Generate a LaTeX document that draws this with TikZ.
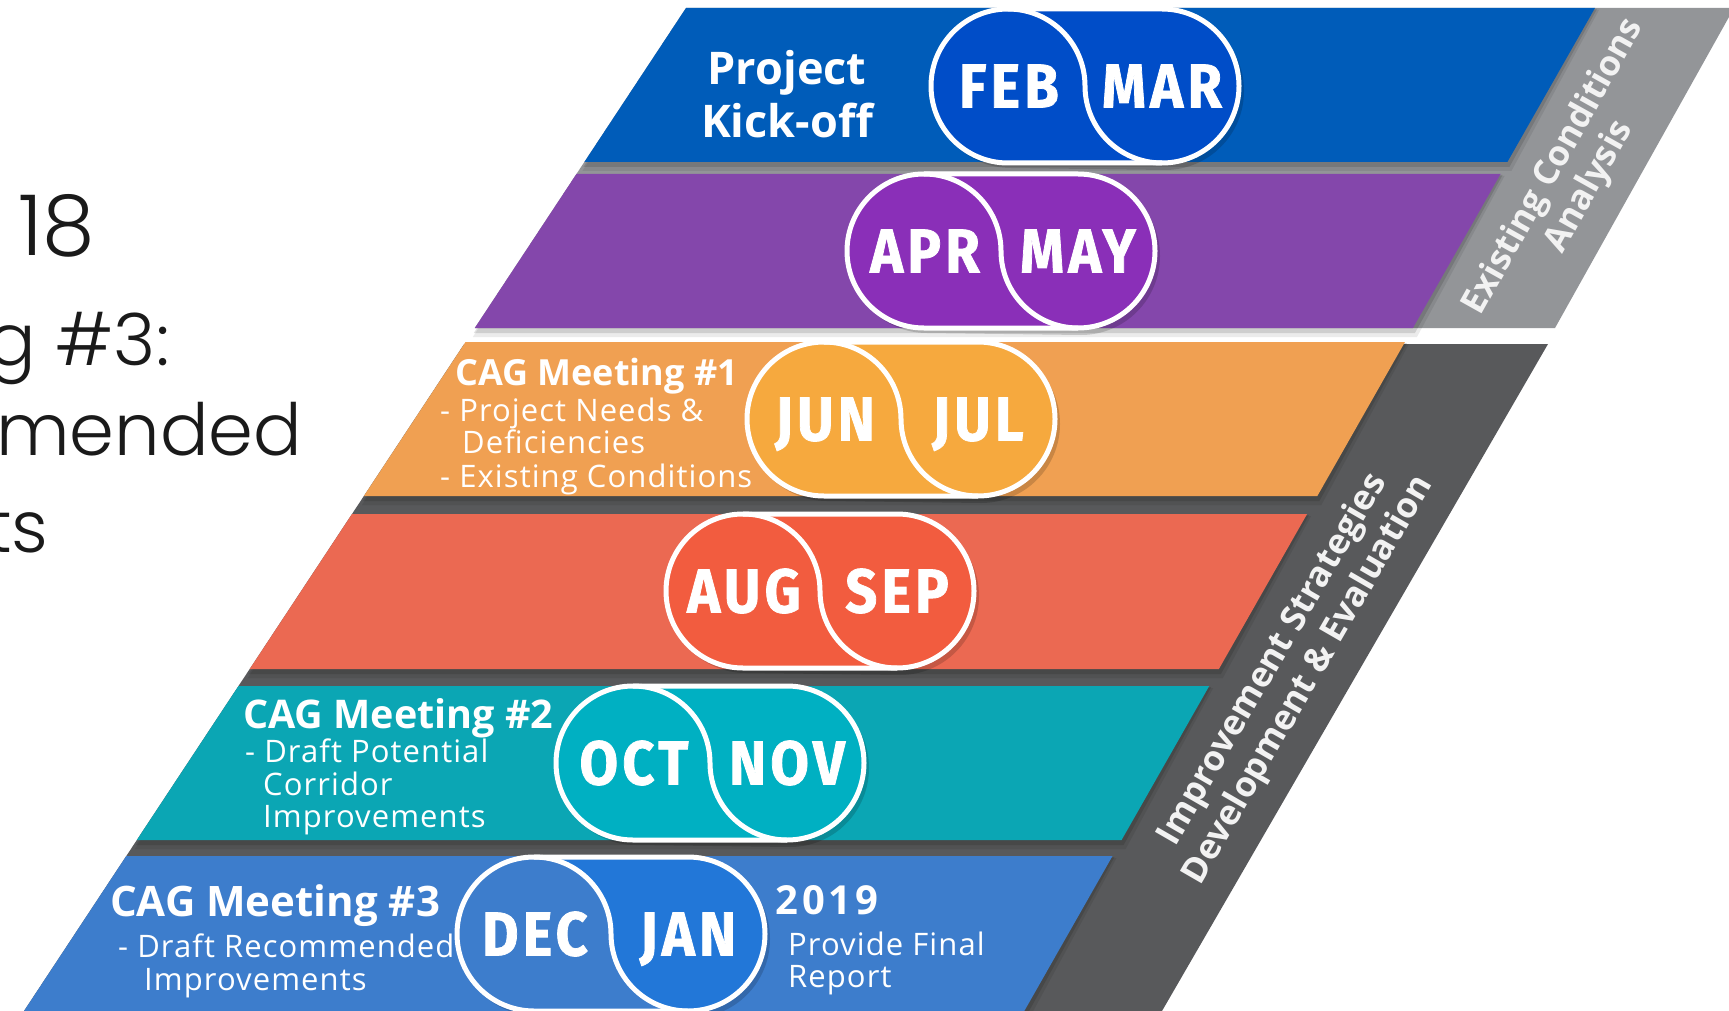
\documentclass[tikz,border=0pt]{standalone}
\usepackage{fontspec}
\setmainfont{Open Sans}[LetterSpace=3.5]
\newfontfamily\headfont{Open Sans}
\newfontfamily\monthfont{Fira Sans}[FakeStretch=0.9,LetterSpace=7,FakeBold=1.2]
\IfFontExistsTF{Poppins Light}{\newfontfamily\titlefont{Poppins Light}}{\newfontfamily\titlefont{Poppins}}
\definecolor{bandA}{HTML}{005CB9}
\definecolor{pillA}{HTML}{004DC8}
\definecolor{bandB}{HTML}{8447AB}
\definecolor{pillB}{HTML}{8A2FB8}
\definecolor{bandC}{HTML}{F0A052}
\definecolor{pillC}{HTML}{F6A93E}
\definecolor{bandD}{HTML}{EB6952}
\definecolor{pillD}{HTML}{F25C3F}
\definecolor{bandE}{HTML}{0BA6B4}
\definecolor{pillE}{HTML}{00B0C2}
\definecolor{bandF}{HTML}{3D7DCC}
\definecolor{pillF}{HTML}{2277D8}
\definecolor{grayA}{HTML}{939598}
\definecolor{grayB}{HTML}{58595B}
\definecolor{ink}{HTML}{1A1A1A}
\newcommand\monthpill[7]{%
  \pgfmathsetmacro\pxl{#2-77}\pgfmathsetmacro\pxr{#2+77}%
  \pgfmathsetmacro\pyt{#3-77}\pgfmathsetmacro\pyb{#3+77}%
  \fill[black,opacity=0.16] (\pxl+3,\pyt+3) -- (\pxr+3,\pyt+3) arc[start angle=-90,end angle=90,radius=79] -- (\pxl+3,\pyb+5) arc[start angle=90,end angle=270,radius=79] -- cycle;
  \fill[#5] (\pxl,\pyt) -- (\pxr,\pyt) arc[start angle=-90,end angle=90,radius=77] -- (\pxl,\pyb) arc[start angle=90,end angle=270,radius=77] -- cycle;
  \fill[#4] (\pxl,\pyt) arc[start angle=270,end angle=90,radius=77] -- (\pxr,\pyb) arc[start angle=90,end angle=180,radius=77] arc[start angle=0,end angle=-90,radius=77] -- cycle;
  \draw[white,line width=5pt] (\pxl,\pyt) -- (\pxr,\pyt) arc[start angle=-90,end angle=90,radius=77] -- (\pxl,\pyb) arc[start angle=90,end angle=270,radius=77] -- cycle;
  \draw[white,line width=5pt] (\pxl,\pyt) arc[start angle=-90,end angle=0,radius=77] arc[start angle=180,end angle=90,radius=77];
  \node[monthtxt] (#1L) at (\pxl+1,#3+21.5) {#6};
  \node[monthtxt] (#1R) at (\pxr,#3+21.5) {#7};
}
\begin{document}
\begin{tikzpicture}[x=1pt,y=-1pt,
  monthtxt/.style={inner sep=0pt,anchor=base,text=white,font=\monthfont\bfseries\fontsize{62pt}{62pt}\selectfont},
  head/.style={inner sep=0pt,anchor=base west,text=white,font=\headfont\bfseries\fontsize{36pt}{40pt}\selectfont},
  item/.style={inner sep=0pt,anchor=base west,text=white,font=\fontsize{31pt}{34pt}\selectfont},
  title/.style={inner sep=0pt,anchor=base west,text=ink,font=\titlefont\fontsize{72pt}{80pt}\selectfont},
  side/.style={inner sep=0pt,align=center,text=white!95!black,font=\headfont\bfseries\fontsize{35pt}{41pt}\selectfont}]
\useasboundingbox (0,0) rectangle (1729,1011);
\fill[white] (0,0) rectangle (1729,1011);
% backing phase bands
\fill[grayA] (686,8) -- (1734,8) -- (1555,328) -- (474.8,328) -- cycle;
\fill[grayB] (464.2,344) -- (1548,344) -- (1162,1011) -- (24,1011) -- cycle;
% monthly bands with soft drop shadows
\foreach \t/\b/\c in {8/162/bandA,174/328/bandB,342/496/bandC,514/669/bandD,686/840/bandE,856/1011/bandF}{
  \pgfmathsetmacro\xlt{686-0.66*(\t-8)}
  \pgfmathsetmacro\xrt{1595-0.569*(\t-8)}
  \pgfmathsetmacro\xlb{686-0.66*(\b-8)}
  \pgfmathsetmacro\xrb{1595-0.569*(\b-8)}
  \fill[black,opacity=0.08] (\xlt+2,\t+2) -- (\xrt+4,\t+2) -- (\xrb+4,\b+9) -- (\xlb-2,\b+9) -- cycle;
  \fill[black,opacity=0.12] (\xlt+1,\t+1) -- (\xrt+2,\t+1) -- (\xrb+2,\b+5) -- (\xlb-1,\b+5) -- cycle;
  \fill[\c] (\xlt,\t) -- (\xrt,\t) -- (\xrb,\b) -- (\xlb,\b) -- cycle;
}
% month pills
\monthpill{p1}{1085}{86}{pillA}{pillA}{FEB}{MAR}
\monthpill{p2}{1001}{251}{pillB}{pillB}{APR}{MAY}
\monthpill{p3}{901}{419}{pillC}{pillC}{JUN}{JUL}
\monthpill{p4}{820}{591}{pillD}{pillD}{AUG}{SEP}
\monthpill{p5}{710}{763}{pillE}{pillE}{OCT}{NOV}
\monthpill{p6}{611}{934}{bandF}{pillF}{DEC}{JAN}
% title fragments
\node[title,font=\titlefont\fontsize{84pt}{90pt}\selectfont] (t1) at (18,255) {18};
\node[title] (t2) at (-13,365) {g \#3:};
\node[title] (t3) at (-4,455) {mended};
\node[title] (t4) at (-14,552) {ts};
% row texts
\node[head,anchor=base,font=\headfont\bfseries\fontsize{45pt}{50pt}\selectfont] (k1) at (787,85) {Project};
\node[head,anchor=base,font=\headfont\bfseries\fontsize{45pt}{50pt}\selectfont] (k2) at (787,138) {Kick-off};
\node[head] (c1) at (455,385) {CAG Meeting \#1};
\node[item] (c1a) at (440,421) {- Project Needs \&};
\node[item] (c1b) at (462,453) {Deficiencies};
\node[item] (c1c) at (440,487) {- Existing Conditions};
\node[head,font=\headfont\bfseries\fontsize{39.5pt}{44pt}\selectfont] (c2) at (243,728) {CAG Meeting \#2};
\node[item] (c2a) at (245,762) {- Draft Potential};
\node[item] (c2b) at (263,795) {Corridor};
\node[item] (c2c) at (263,827) {Improvements};
\node[head,font=\headfont\bfseries\fontsize{42pt}{46pt}\selectfont] (c3) at (110,916) {CAG Meeting \#3};
\node[item] (c3a) at (118,957) {- Draft Recommended};
\node[item] (c3b) at (144,990) {Improvements};
\node[head,font=\headfont\bfseries\addfontfeature{LetterSpace=10}\fontsize{40pt}{44pt}\selectfont] (y19) at (775,914) {2019};
\node[item] (f1) at (788,955) {Provide Final};
\node[item] (f2) at (788,987) {Report};
% phase labels
\node[side,rotate=60.8] (ph1) at (1572,177) {Existing Conditions\\Analysis};
\node[side,rotate=60] (ph2) at (1291,670) {Improvement Strategies\\Development \& Evaluation};
\end{tikzpicture}
\end{document}
